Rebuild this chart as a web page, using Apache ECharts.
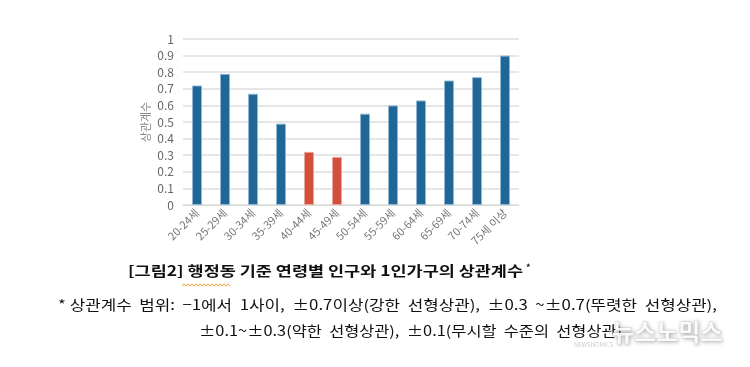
<!DOCTYPE html>
<html><head><meta charset="utf-8">
<script src="https://cdn.jsdelivr.net/npm/echarts@6/dist/echarts.min.js"></script>
<style>html,body{margin:0;padding:0;background:#fff}#c{width:750px;height:367px}</style>
</head><body><div id="c"></div>
<script>
const categories = ['20-24세','25-29세','30-34세','35-39세','40-44세','45-49세','50-54세','55-59세','60-64세','65-69세','70-74세','75세 이상'];
const values = [0.72,0.79,0.67,0.49,0.32,0.29,0.55,0.60,0.63,0.75,0.77,0.90];
const highlight = [false,false,false,false,true,true,false,false,false,false,false,false];
const yTicks = [0,0.1,0.2,0.3,0.4,0.5,0.6,0.7,0.8,0.9,1];
const titleText = '[그림2] 행정동 기준 연령별 인구와 1인가구의 상관계수';
const note1 = '* 상관계수  범위:  −1에서  1사이,  ±0.7이상(강한  선형상관),  ±0.3  ~±0.7(뚜렷한  선형상관),';
const note2 = '±0.1~±0.3(약한  선형상관),  ±0.1(무시할  수준의  선형상관)';
const FONT = '"Noto Sans CJK KR","Noto Sans",sans-serif';

const ctx = document.createElement('canvas').getContext('2d');
function fitScale(text, font, target) { ctx.font = font; return target / ctx.measureText(text).width; }
const fTitle = 'bold 14px ' + FONT, fNote = '14px ' + FONT;

const wave = [];
for (let i = 0; i <= 24; i++) wave.push([182 + i * 2, 285 + (i % 2 ? -1.2 : 1.2)]);

const chart = echarts.init(document.getElementById('c'));
chart.setOption({
  animation: false,
  grid: {left: 183, right: 231, top: 39, bottom: 162},
  xAxis: {
    type: 'category', data: categories,
    axisLine: {lineStyle: {color: '#d9d9d9', width: 1}},
    axisTick: {show: false},
    axisLabel: {rotate: 45, color: '#777', fontSize: 11, fontFamily: FONT, margin: 6, interval: 0}
  },
  yAxis: {
    type: 'value', min: 0, max: 1, interval: 0.1,
    name: '상관계수', nameLocation: 'middle', nameGap: 32, nameRotate: 90,
    nameTextStyle: {color: '#888', fontSize: 11, fontFamily: FONT},
    axisLine: {show: false}, axisTick: {show: false},
    splitLine: {lineStyle: {color: '#e6e6e6', width: 2}},
    axisLabel: {color: '#666', fontSize: 12, fontFamily: FONT, margin: 9,
      formatter: v => { const t = yTicks.find(x => Math.abs(x - v) < 1e-6); return t === undefined ? '' : String(+t.toFixed(1)); }}
  },
  series: [{
    type: 'bar', barWidth: 10,
    data: values.map((v, i) => ({value: v, itemStyle: highlight[i]
      ? {color: '#d14f3c', borderColor: '#eba596', borderWidth: 1}
      : {color: '#1f6797', borderColor: '#8fb6d3', borderWidth: 1}}))
  }],
  graphic: [
    {type: 'text', x: 128, y: 264, scaleX: fitScale(titleText, fTitle, 395), style: {text: titleText, font: fTitle, fill: '#111'}},
    {type: 'text', x: 526, y: 263, style: {text: '*', font: 'bold 9px ' + FONT, fill: '#111'}},
    {type: 'polyline', shape: {points: wave}, style: {stroke: '#f0a040', lineWidth: 1, fill: null}},
    {type: 'text', x: 58, y: 298, scaleX: fitScale(note1, fNote, 659), style: {text: note1, font: fNote, fill: '#111'}},
    {type: 'text', x: 199, y: 324, scaleX: fitScale(note2, fNote, 423), style: {text: note2, font: fNote, fill: '#111'}},
    {type: 'text', x: 612, y: 320, style: {text: '뉴스노믹스', font: 'bold 24px ' + FONT, fill: 'rgba(255,255,255,0.9)',
      stroke: 'rgba(200,200,200,0.6)', lineWidth: 1,
      textShadowColor: 'rgba(0,0,0,0.3)', textShadowBlur: 4, textShadowOffsetX: 1, textShadowOffsetY: 1}},
    {type: 'text', x: 574, y: 342, style: {text: 'NEWSNOMICS', font: '6px ' + FONT, fill: 'rgba(190,190,190,0.8)'}}
  ]
});
</script></body></html>
